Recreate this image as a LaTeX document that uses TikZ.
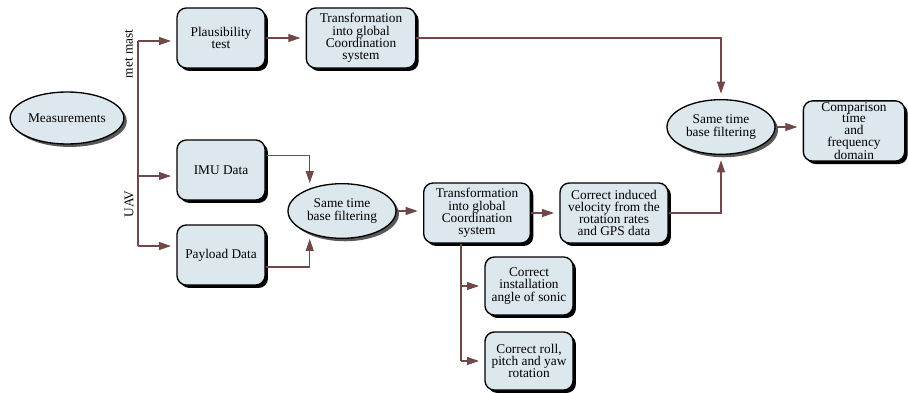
\documentclass[tikz,border=0pt]{standalone}
\usepackage{fontspec}
\setmainfont{Liberation Serif}
\usetikzlibrary{arrows.meta,shapes.geometric,shadows}
\definecolor{flowFill}{RGB}{220,231,238}
\definecolor{flowLine}{RGB}{112,72,72}

\begin{document}
\begin{tikzpicture}[
  x=0.75pt, y=-0.75pt,
  font=\fontsize{10}{9.2}\selectfont,
  box/.style={rounded corners=7pt, draw=black, line width=1pt, fill=flowFill, align=center, inner sep=1pt, minimum width=66pt, minimum height=45pt, drop shadow={shadow xshift=2.2pt, shadow yshift=-2.2pt, fill=black, opacity=1}},
  oval/.style={ellipse, draw=black, line width=1pt, fill=flowFill, align=center, inner sep=1pt, minimum width=81pt, minimum height=41pt, drop shadow={shadow xshift=2.2pt, shadow yshift=-2.2pt, fill=black!65, opacity=1}},
  link/.style={draw=flowLine, line width=0.8pt},
  arrow/.style={link, -{Triangle[length=9pt, width=6pt]}, shorten >=4pt},
  side/.style={rotate=90, inner sep=1pt}
]
\useasboundingbox (0,0) rectangle (908,393);

\node[oval, minimum height=39pt] (meas) at (67,118) {Measurements};

\node[box] (plaus) at (221,38) {Plausibility\\test};
\node[box, minimum width=82pt] (trans1) at (361,38) {Transformation\\into global\\Coordination\\system};

\node[box] (imu) at (221,170) {IMU Data};
\node[box] (payload) at (221,255) {Payload Data};

\node[oval] (mid) at (342,211) {Same time\\base filtering};
\node[box, minimum width=80pt] (trans2) at (477,213) {Transformation\\into global\\Coordination\\system};
\node[box, minimum width=81pt] (induced) at (614,213) {Correct induced\\velocity from the\\rotation rates\\and GPS data};

\node[box, minimum height=43.5pt] (install) at (529,286) {Correct\\installation\\angle of sonic};
\node[box, minimum height=43.5pt] (roll) at (529,361) {Correct roll,\\pitch and yaw\\rotation};

\node[oval] (same2) at (721,127) {Same time\\base filtering};
\node[box, minimum width=76pt, minimum height=44pt, font=\fontsize{10}{8.8}\selectfont] (comp) at (854,131) {Comparison\\time\\and\\frequency\\domain};

\node[side] (mastLbl) at (129,54) {met mast};
\node[side] (uavLbl) at (129,204) {UAV};

% split from the measurements
\coordinate (split) at (138,41);
\coordinate (imuIn) at ([yshift=-4.5pt]imu.west);
\coordinate (payIn) at ([yshift=6.75pt]payload.west);
\draw[link] (split) -- (split |- payIn);
\draw[arrow] (split) -- (split -| plaus.west);
\draw[arrow] (split |- imuIn) -- (imuIn);
\draw[arrow] (split |- payIn) -- (payIn);

% met mast branch
\draw[arrow] (plaus) -- (trans1);
\draw[arrow] (trans1.east) -| (same2.north);

% UAV branch
\coordinate (imuOut) at ([yshift=11pt]imu.east);
\coordinate (payOut) at ([yshift=-9pt]payload.east);
\draw[arrow] (imuOut) -| (mid.145);
\draw[arrow] (payOut) -| (mid.215);
\draw[arrow] (mid.east) -- (mid.east -| trans2.west);
\draw[arrow] (trans2) -- (induced);
\draw[arrow] (induced.east) -| (same2.south);
\draw[arrow] (same2.east) -- (same2.east -| comp.west);

\coordinate (drop) at ([xshift=-12pt]trans2.south);
\draw[link] (drop) -- (drop |- roll.west);
\draw[arrow] (drop |- install.west) -- (install.west);
\draw[arrow] (drop |- roll.west) -- (roll.west);
\end{tikzpicture}
\end{document}
